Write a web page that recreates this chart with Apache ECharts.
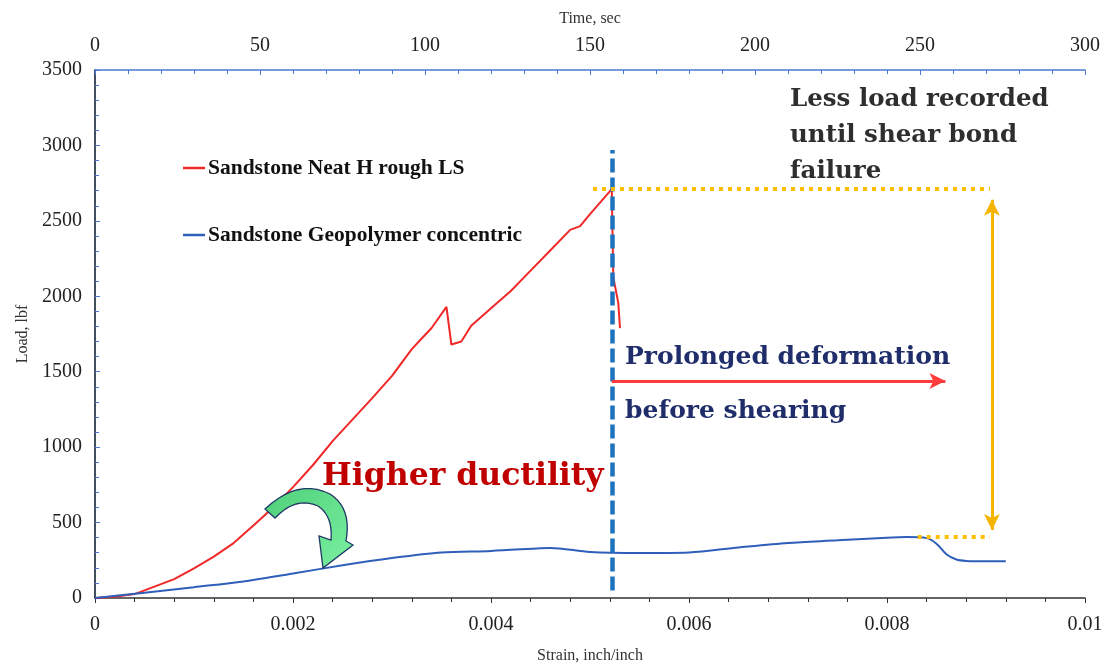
<!DOCTYPE html>
<html>
<head>
<meta charset="utf-8">
<script src="https://cdn.jsdelivr.net/npm/echarts@6/dist/echarts.min.js"></script>
<style>
html,body{margin:0;padding:0;background:#fff;}
#chart{width:1106px;height:667px;}
</style>
</head>
<body>
<div id="chart"></div>
<script>
// 红线：Sandstone Neat H rough LS
var redStrain = [0, 0.0002, 0.0004, 0.0006, 0.0008, 0.001, 0.0012, 0.0014, 0.0016, 0.0018, 0.002, 0.0022, 0.0024, 0.0026, 0.0028, 0.003, 0.0032, 0.0033, 0.0034, 0.00355, 0.0036, 0.0037, 0.0038, 0.004, 0.0042, 0.0044, 0.0046, 0.0048, 0.0049, 0.005, 0.00522, 0.005235, 0.005286, 0.005303];
var redLoad = [0, 8, 26, 75, 125, 197, 274, 364, 480, 600, 735, 880, 1040, 1182, 1325, 1472, 1650, 1720, 1790, 1930, 1680, 1700, 1805, 1920, 2035, 2170, 2305, 2440, 2465, 2545, 2710, 2129, 1955, 1789];
// 蓝线：Sandstone Geopolymer concentric
var blueStrain = [0, 0.0005, 0.001, 0.0015, 0.002, 0.0025, 0.003, 0.0035, 0.004, 0.0045, 0.0046, 0.005, 0.0055, 0.006, 0.0065, 0.007, 0.0075, 0.008, 0.0082, 0.0084, 0.0085, 0.0086, 0.0087, 0.0088, 0.009, 0.0092];
var blueLoad = [0, 35, 72, 110, 162, 217, 265, 302, 312, 330, 332, 305, 298, 302, 335, 365, 382, 400, 404, 397, 360, 290, 255, 246, 244, 244];

var strainTicks = [0, 0.002, 0.004, 0.006, 0.008, 0.01];
var timeTicks = [0, 50, 100, 150, 200, 250, 300];
var loadTicks = [0, 500, 1000, 1500, 2000, 2500, 3000, 3500];

var seriesNames = ['Sandstone Neat H rough LS', 'Sandstone Geopolymer concentric'];

// 注释位置（数据坐标）
var failStrain = 0.00522;
var peakLoad = 2710;
var geoPeakLoad = 404;
var arrowLoad = 1438;
var arrowEndStrain = 0.00859;
var capStrain = 0.00904;
var yellowArrowStrain = 0.00906;

function pairs(xs, ys) {
	var out = [];
	for (var i = 0; i < xs.length; i++) out.push([xs[i], ys[i]]);
	return out;
}

// 二次贝塞尔采样，用于绿色弯箭头
function quad(pts, p0, c, p1) {
	for (var t = 0.1; t <= 1.0001; t += 0.1) {
		var a = (1 - t) * (1 - t), b = 2 * (1 - t) * t, d = t * t;
		pts.push([a * p0[0] + b * c[0] + d * p1[0], a * p0[1] + b * c[1] + d * p1[1]]);
	}
}
var arrowPts = [[265, 509]];
quad(arrowPts, [265, 509], [298, 478], [330, 494]);
quad(arrowPts, [330, 494], [352, 508], [346, 541]);
arrowPts.push([353, 545], [323, 568], [319, 536], [331, 540]);
quad(arrowPts, [331, 540], [333, 516], [318, 506]);
quad(arrowPts, [318, 506], [296, 496], [275, 518]);

var SERIF = '"Liberation Serif", "Times New Roman", serif';
var BOLDSERIF = '"DejaVu Serif", serif';
var AXISBLUE = '#4a7bd0';

var myChart = echarts.init(document.getElementById('chart'));
var option = {
	animation: false,
	backgroundColor: '#fff',
	grid: {left: 95, right: 21, top: 70, bottom: 69, outerBoundsMode: 'none', containLabel: false},
	legend: [{
		data: [seriesNames[0]], left: 183, top: 157, padding: 0, icon: 'rect',
		itemWidth: 22, itemHeight: 2.5, itemGap: 3,
		textStyle: {fontFamily: SERIF, fontWeight: 'bold', fontSize: 21.5, color: '#111', padding: [0, 0, 0, -2]}
	}, {
		data: [seriesNames[1]], left: 183, top: 224, padding: 0, icon: 'rect',
		itemWidth: 22, itemHeight: 2.5, itemGap: 3,
		textStyle: {fontFamily: SERIF, fontWeight: 'bold', fontSize: 21.5, color: '#111', padding: [0, 0, 0, -2]}
	}],
	xAxis: [{
		type: 'value', position: 'bottom', min: 0, max: 0.01, interval: 0.002,
		name: 'Strain, inch/inch', nameLocation: 'middle', nameGap: 50,
		nameTextStyle: {fontFamily: SERIF, fontSize: 16, color: '#333'},
		axisLine: {lineStyle: {color: '#333', width: 1.5}},
		axisTick: {inside: false, length: 5, lineStyle: {color: '#333'}},
		minorTick: {show: true, splitNumber: 5, length: 4, lineStyle: {color: '#333'}},
		axisLabel: {fontFamily: SERIF, fontSize: 20, color: '#222', margin: 17},
		splitLine: {show: false}
	}, {
		type: 'value', position: 'top', min: 0, max: 300, interval: 50,
		name: 'Time, sec', nameLocation: 'middle', nameGap: 43,
		nameTextStyle: {fontFamily: SERIF, fontSize: 16, color: '#333'},
		axisLine: {onZero: false, lineStyle: {color: AXISBLUE, width: 1.5}},
		axisTick: {inside: true, length: 5, lineStyle: {color: AXISBLUE}},
		minorTick: {show: true, splitNumber: 5, length: 4, lineStyle: {color: AXISBLUE}},
		axisLabel: {fontFamily: SERIF, fontSize: 20, color: '#222', margin: 14},
		splitLine: {show: false}
	}],
	yAxis: [{
		type: 'value', position: 'left', min: 0, max: 3500, interval: 500,
		name: 'Load, lbf', nameLocation: 'middle', nameGap: 64, nameRotate: 90,
		nameTextStyle: {fontFamily: SERIF, fontSize: 16, color: '#333'},
		axisLine: {show: true, lineStyle: {color: AXISBLUE, width: 1.5}},
		axisTick: {show: true, inside: true, length: 5, lineStyle: {color: AXISBLUE}},
		minorTick: {show: true, splitNumber: 5, length: 4, lineStyle: {color: AXISBLUE}},
		axisLabel: {fontFamily: SERIF, fontSize: 20, color: '#222', margin: 13,
			formatter: function (v) { return String(v); }},
		splitLine: {show: false}
	}, {
		type: 'value', position: 'right', min: 0, max: 3500, interval: 500,
		axisLine: {show: true, lineStyle: {color: '#333', width: 1.5}},
		axisTick: {show: false}, axisLabel: {show: false}, splitLine: {show: false}
	}],
	series: [{
		name: seriesNames[0], type: 'line', xAxisIndex: 0, yAxisIndex: 0,
		data: pairs(redStrain, redLoad), showSymbol: false, smooth: false,
		lineStyle: {color: '#f02828', width: 2}, itemStyle: {color: '#f02828'},
		z: 3,
		markLine: {
			silent: true, symbol: 'none', label: {show: false}, z: 5,
			data: [
				// 蓝色竖虚线
				[{coord: [failStrain, 50], lineStyle: {color: '#1e73be', width: 4.5, type: [14, 5]}},
				 {coord: [failStrain, 2970]}],
				// 黄色点线
				[{coord: [0.00503, peakLoad], lineStyle: {color: '#ffc000', width: 4, type: [4, 5]}},
				 {coord: [capStrain, peakLoad]}],
				[{coord: [0.00831, geoPeakLoad], lineStyle: {color: '#ffc000', width: 4, type: [4, 5]}},
				 {coord: [capStrain, geoPeakLoad]}],
				// 黄色双向箭头
				[{coord: [yellowArrowStrain, 2640], symbol: 'arrow', symbolSize: [12, 16], lineStyle: {color: '#f5b400', width: 3, type: 'solid'}},
				 {coord: [yellowArrowStrain, 450], symbol: 'arrow', symbolSize: [12, 16]}],
				// 红色箭头
				[{coord: [failStrain, arrowLoad], symbol: 'none', lineStyle: {color: '#ff3b3b', width: 3, type: 'solid'}},
				 {coord: [arrowEndStrain, arrowLoad], symbol: 'arrow', symbolSize: [12, 16]}]
			]
		}
	}, {
		name: seriesNames[1], type: 'line', xAxisIndex: 0, yAxisIndex: 0,
		data: pairs(blueStrain, blueLoad), showSymbol: false, smooth: 0.3,
		lineStyle: {color: '#2f5fba', width: 2}, itemStyle: {color: '#2f5fba'},
		z: 3
	}],
	graphic: [
		// 绿色弯箭头
		{
			type: 'polygon', z: 10,
			shape: {points: arrowPts},
			style: {
				fill: {type: 'linear', x: 0, y: 0, x2: 1, y2: 1,
					colorStops: [{offset: 0, color: '#4fcf7a'}, {offset: 1, color: '#7af0a0'}]},
				stroke: '#1f3864', lineWidth: 1.3
			}
		},
		{type: 'text', left: 322, top: 461, z: 10,
			style: {text: 'Higher ductility', font: 'bold 31.5px ' + BOLDSERIF, fill: '#c00000'}},
		{type: 'text', left: 625, top: 345, z: 10,
			style: {text: 'Prolonged deformation', font: 'bold 25px ' + BOLDSERIF, fill: '#1f2d6b'}},
		{type: 'text', left: 625, top: 399, z: 10,
			style: {text: 'before shearing', font: 'bold 25px ' + BOLDSERIF, fill: '#1f2d6b'}},
		{type: 'text', left: 790, top: 82, z: 10,
			style: {text: 'Less load recorded\nuntil shear bond\nfailure', font: 'bold 24.5px ' + BOLDSERIF, fill: '#2e2e2e', lineHeight: 36}}
	]
};
myChart.setOption(option);
</script>
</body>
</html>
